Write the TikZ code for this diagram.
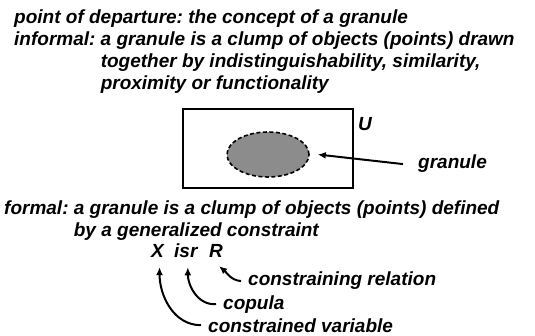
\documentclass[tikz,border=0pt]{standalone}
\usepackage{fontspec}
\setmainfont{Liberation Sans}
\usetikzlibrary{arrows.meta,shapes.geometric}
\definecolor{granulegray}{HTML}{8C8C8C}
\frenchspacing

\begin{document}
\begin{tikzpicture}[
    x=1pt,y=-1pt,
    >=Latex,
    txt/.style={inner sep=0pt,anchor=base west,align=left,
      font=\fontsize{19}{22}\selectfont\bfseries\itshape},
    block/.style={txt,anchor=west},
    pointer/.style={-{Latex[length=8pt,width=7pt]},line width=2pt}
  ]
  \path[use as bounding box] (0,0) rectangle (535,336);

  \node[txt] (departure) at (14,24) {point of departure: the concept of a granule};
  \node[block] (informal) at (14,63.6) {\begin{tabular}{@{}l@{ }l@{}}
      informal: & a granule is a clump of objects (points) drawn\\
                & together by indistinguishability, similarity,\\
                & proximity or functionality
    \end{tabular}};

  % universe with one granule
  \node[draw,line width=2pt,minimum width=170,minimum height=79] (universe) at (268,148.5) {};
  \node[ellipse,draw,fill=granulegray,line width=1.6pt,dash pattern=on 4pt off 2.5pt,
    minimum width=82,minimum height=45] (granule) at (268,154.5) {};
  \node[txt] (U) at (358,131) {U};
  \node[txt] (glabel) at (418,169) {granule};
  \draw[pointer] ([xshift=-15pt]glabel.west) -- ([xshift=8pt]granule.east);

  \node[block] (formal) at (4,221) {\begin{tabular}{@{}l@{ }l@{}}
      formal: & a granule is a clump of objects (points) defined\\
              & by a generalized constraint
    \end{tabular}};

  % generalized constraint
  \node[txt] (X) at (151,258) {X};
  \node[txt] (isr) at (174,258) {isr};
  \node[txt] (R) at (209,258) {R};
  \node[txt] (relation) at (248,286) {constraining relation};
  \node[txt] (copula) at (223,309) {copula};
  \node[txt] (variable) at (208,332) {constrained variable};

  \draw[pointer] ([xshift=-7pt]relation.west) to[out=175,in=-40] ([shift={(3,8)}]R.south);
  \draw[pointer] ([xshift=-7pt]copula.west) to[out=185,in=-90] ([shift={(2,9)}]isr.south);
  \draw[pointer] ([xshift=-7pt]variable.west) to[out=180,in=-90] ([shift={(2,9)}]X.south);
\end{tikzpicture}
\end{document}
